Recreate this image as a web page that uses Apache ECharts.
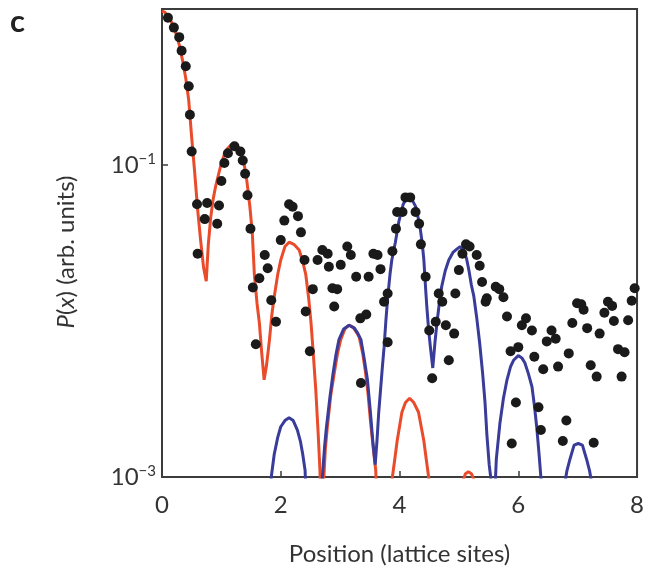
<!DOCTYPE html>
<html>
<head>
<meta charset="utf-8">
<script src="https://cdn.jsdelivr.net/npm/echarts@6/dist/echarts.min.js"></script>
<style>
html,body{margin:0;padding:0;background:#fff;}
#chart{width:647px;height:572px;}
</style>
</head>
<body>
<div id="chart"></div>
<script>
// ---- data ----
const xTicks = [0, 2, 4, 6, 8];
const yTicks = [0.001, 0.1];

// theory curve (red)
const redX = [0.00,0.05,0.10,0.15,0.20,0.25,0.30,0.35,0.40,0.45,0.50,0.55,0.60,0.65,0.70,0.745,0.78,0.82,0.86,0.90,0.945,1.00,1.05,1.10,1.16,1.22,1.28,1.34,1.38,1.42,1.45,1.48,1.52,1.555,1.60,1.64,1.68,1.72,1.76,1.81,1.85,1.89,1.95,2.00,2.07,2.14,2.22,2.31,2.37,2.42,2.47,2.51,2.55,2.59,2.63,2.66,2.69,2.72,2.75,2.785,2.84,2.90,2.96,3.01,3.08,3.15,3.22,3.28,3.32,3.38,3.43,3.47,3.51,3.56,3.60,3.63,3.80,3.85,3.88,3.92,3.96,4.04,4.10,4.17,4.24,4.32,4.41,4.45,4.49,4.52,4.60,5.02,5.07,5.11,5.16,5.21,5.26,5.30,5.40];
const redY = [0.97,0.95,0.90,0.84,0.76,0.67,0.57,0.46,0.36,0.26,0.15,0.09,0.052,0.033,0.022,0.018,0.031,0.046,0.06,0.072,0.085,0.103,0.117,0.127,0.134,0.136,0.131,0.119,0.103,0.084,0.068,0.054,0.037,0.020,0.013,0.0097,0.0062,0.0042,0.0052,0.0076,0.011,0.0143,0.020,0.0246,0.030,0.032,0.031,0.0285,0.024,0.020,0.014,0.0097,0.006,0.0036,0.0019,0.0011,0.0004,0.0009,0.0015,0.0021,0.0033,0.0046,0.0063,0.0076,0.0089,0.0094,0.0091,0.0084,0.0079,0.0062,0.0046,0.0034,0.0023,0.0015,0.0011,0.0004,0.0003,0.0006,0.001,0.0013,0.0017,0.0026,0.0030,0.0032,0.0030,0.0026,0.0017,0.0013,0.001,0.0006,0.0003,0.0003,0.00095,0.00105,0.00108,0.00105,0.00095,0.0003,0.0003];

// theory curve (blue)
const blueX = [1.78,1.84,1.89,1.95,2.00,2.07,2.14,2.21,2.28,2.33,2.37,2.41,2.46,2.66,2.70,2.74,2.77,2.83,2.88,2.93,2.98,3.06,3.15,3.24,3.30,3.35,3.40,3.46,3.51,3.55,3.59,3.62,3.65,3.68,3.71,3.74,3.77,3.80,3.84,3.87,3.93,3.99,4.06,4.11,4.155,4.21,4.27,4.34,4.38,4.41,4.44,4.46,4.49,4.52,4.56,4.60,4.63,4.67,4.71,4.77,4.83,4.90,4.97,5.02,5.08,5.13,5.17,5.21,5.25,5.30,5.35,5.40,5.44,5.47,5.51,5.55,5.58,5.60,5.63,5.69,5.75,5.81,5.87,5.92,6.00,6.06,6.11,6.17,6.23,6.27,6.31,6.35,6.39,6.42,6.74,6.78,6.82,6.87,6.94,7.01,7.08,7.15,7.20,7.24,7.27,8.00];
const blueY = [0.0003,0.001,0.0014,0.0018,0.0021,0.0023,0.0024,0.0023,0.0020,0.0017,0.0014,0.0011,0.0003,0.0003,0.0010,0.0016,0.0021,0.0033,0.0046,0.0061,0.0076,0.0089,0.0094,0.0090,0.0083,0.0076,0.0059,0.0042,0.0026,0.0017,0.0012,0.0017,0.0026,0.0036,0.0050,0.0068,0.0100,0.0140,0.020,0.0246,0.032,0.0436,0.0557,0.061,0.063,0.060,0.0543,0.0415,0.032,0.0246,0.016,0.0123,0.0088,0.0068,0.0050,0.0075,0.0097,0.013,0.0166,0.021,0.0246,0.0275,0.029,0.030,0.0285,0.025,0.021,0.017,0.0145,0.0105,0.0072,0.0046,0.003,0.0019,0.0012,0.0009,0.0003,0.0007,0.0013,0.0022,0.0032,0.0042,0.0051,0.0056,0.0060,0.0058,0.0054,0.0046,0.0038,0.0029,0.0021,0.0014,0.0009,0.0003,0.0003,0.0009,0.0011,0.0013,0.0016,0.00164,0.0016,0.0013,0.0011,0.0009,0.0003,0.0003];

// measured points (black dots)
const dotX = [0.10,0.20,0.29,0.33,0.40,0.45,0.47,0.50,0.59,0.60,0.72,0.76,0.93,0.96,1.00,1.05,1.11,1.22,1.32,1.36,1.40,1.44,1.49,
  1.53,1.58,1.64,1.73,1.78,1.84,1.92,2.00,2.06,2.14,2.20,2.29,2.34,2.40,2.42,2.49,2.54,2.62,2.70,2.79,2.81,2.87,2.90,2.95,3.01,3.12,3.18,3.27,3.34,3.35,3.44,3.48,3.56,3.63,3.68,3.74,3.80,3.80,3.88,3.94,3.96,4.05,4.10,4.18,4.27,4.33,4.36,4.44,4.50,4.55,4.61,4.66,4.72,4.78,4.83,4.92,4.94,5.00,5.06,5.12,5.18,
  5.30,5.35,5.39,5.45,5.47,5.62,5.68,5.75,5.81,5.87,6.00,6.06,6.13,6.23,6.27,6.42,6.48,6.56,6.63,6.67,6.85,6.91,6.99,7.06,7.10,7.16,7.22,7.32,7.37,7.45,7.51,7.58,7.61,7.68,7.79,7.74,7.85,7.91,7.96,
  5.96,6.34,6.38,5.89,6.75,6.81,7.27];
const dotY = [0.88,0.76,0.66,0.54,0.43,0.32,0.21,0.122,0.056,0.027,0.045,0.057,0.042,0.055,0.079,0.103,0.119,0.132,0.122,0.107,0.088,0.064,0.039,
  0.0164,0.0071,0.0188,0.0265,0.0218,0.0136,0.0099,0.033,0.044,0.056,0.054,0.047,0.037,0.0246,0.0115,0.0064,0.016,0.0246,0.0285,0.027,0.0223,0.0162,0.0124,0.016,0.0229,0.030,0.0265,0.0192,0.0104,0.004,0.011,0.0192,0.027,0.0265,0.0215,0.0133,0.015,0.0073,0.028,0.039,0.050,0.050,0.062,0.062,0.050,0.042,0.031,0.0192,0.0087,0.0043,0.0099,0.015,0.0133,0.0094,0.0056,0.0083,0.015,0.0212,0.027,0.031,0.030,
  0.0265,0.0226,0.0178,0.0133,0.014,0.0166,0.016,0.0142,0.0107,0.0064,0.0068,0.0094,0.0104,0.0087,0.0059,0.0049,0.0074,0.0087,0.0077,0.0051,0.0062,0.0097,0.013,0.0128,0.0118,0.009,0.0052,0.0044,0.0083,0.0113,0.0133,0.0125,0.010,0.0066,0.0063,0.0044,0.0101,0.0135,0.0162,
  0.003,0.0028,0.002,0.00164,0.0017,0.0023,0.00166];

const zip = (a, b) => a.map((v, i) => [v, b[i]]);

const sup = { '-1': '\u22121', '-3': '\u22123' };
const chart = echarts.init(document.getElementById('chart'), null, { renderer: 'canvas' });
chart.setOption({
  animation: false,
  backgroundColor: '#fff',
  textStyle: { fontFamily: 'Lato' },
  graphic: [{
    type: 'text', left: 10, top: 6,
    style: { text: 'c', font: 'bold 31px Lato', fill: '#222' }
  }],
  grid: { left: 162, top: 9, width: 477, height: 468, show: true, borderColor: '#3c3c3c', borderWidth: 2, backgroundColor: 'transparent' },
  xAxis: {
    type: 'value', min: 0, max: 8, interval: 2,
    axisLine: { show: false },
    splitLine: { show: false },
    axisTick: { show: true, inside: true, length: 6, customValues: [2, 4, 6], lineStyle: { color: '#3c3c3c', width: 1.5 } },
    axisLabel: { customValues: xTicks, margin: 16, fontSize: 24, color: '#333', fontFamily: 'Lato' },
    name: 'Position (lattice sites)', nameLocation: 'middle', nameGap: 65,
    nameTextStyle: { fontSize: 24, color: '#333', fontFamily: 'Lato' }
  },
  yAxis: {
    type: 'log', logBase: 10, min: 0.001, max: 1,
    axisLine: { show: false },
    splitLine: { show: false },
    axisTick: { show: true, inside: true, length: 6, customValues: yTicks, lineStyle: { color: '#3c3c3c', width: 1.5 } },
    axisLabel: {
      customValues: yTicks, margin: 6, color: '#333', fontSize: 24, fontFamily: 'Lato',
      formatter: function (v) { const e = Math.round(Math.log10(v)); return '{b|10}{s|' + sup[String(e)] + '}'; },
      rich: {
        b: { fontSize: 24, color: '#333', fontFamily: 'Lato' },
        s: { fontSize: 15, color: '#333', fontFamily: 'Lato', padding: [0, 0, 12, 0] }
      }
    },
    name: '{i|P}({i|x}) (arb. units)', nameLocation: 'middle', nameGap: 84, nameRotate: 90,
    nameTextStyle: {
      fontSize: 24, color: '#333', fontFamily: 'Lato', padding: [0, 18, 0, 0],
      rich: {
        i: { fontSize: 24, fontStyle: 'italic', color: '#333', fontFamily: 'Lato' }
      }
    }
  },
  series: [
    { type: 'line', name: 'red', data: zip(redX, redY), showSymbol: false, symbol: 'none', clip: true, z: 2,
      lineStyle: { color: '#e94b2b', width: 3 } },
    { type: 'line', name: 'blue', data: zip(blueX, blueY), showSymbol: false, symbol: 'none', clip: true, z: 3,
      lineStyle: { color: '#393c99', width: 3 } },
    { type: 'scatter', name: 'data', data: zip(dotX, dotY), symbol: 'circle', symbolSize: 10, clip: true, z: 4,
      itemStyle: { color: '#1a1a1a', opacity: 1 } }
  ]
});
</script>
</body>
</html>
